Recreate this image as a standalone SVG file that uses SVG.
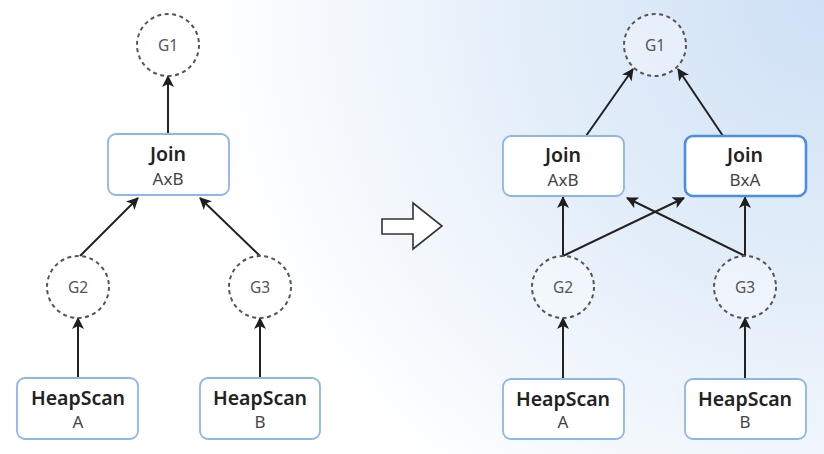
<svg xmlns="http://www.w3.org/2000/svg" width="824" height="454" viewBox="0 0 824 454">
<defs>
<radialGradient id="bg" cx="824" cy="0" r="620" gradientUnits="userSpaceOnUse">
<stop offset="0" stop-color="#cfe1f6"/>
<stop offset="0.45" stop-color="#e2edf9"/>
<stop offset="1" stop-color="#ffffff"/>
</radialGradient>
<marker id="ah" viewBox="0 0 12 12" refX="11" refY="6" markerWidth="12" markerHeight="12" markerUnits="userSpaceOnUse" orient="auto">
<path d="M0,0 L12,6 L0,12 L3,6 z" fill="#1e1e1e"/>
</marker>
<style>
.box{fill:#fff;stroke:#8db6ea;stroke-width:1.8}
.boxhl{fill:#fff;stroke:#4a8fe0;stroke-width:2.6}
.grp{fill:#fff;fill-opacity:0.35;stroke:#555;stroke-width:2;stroke-dasharray:4 3.5}
.t1{font-family:"Noto Sans","Open Sans",sans-serif;font-weight:600;font-size:19.5px;fill:#222;text-anchor:middle}
.t2{font-family:"Noto Sans","Open Sans",sans-serif;font-size:17px;fill:#444;text-anchor:middle}
.tg{font-family:"Noto Sans","Open Sans",sans-serif;font-size:15.5px;fill:#555;text-anchor:middle}
.edge{stroke:#222;stroke-width:2;fill:none;marker-end:url(#ah)}
</style>
</defs>
<rect width="824" height="454" fill="url(#bg)"/>

<g id="connectors">
<line class="edge" x1="168" y1="134" x2="168" y2="76"/>
<line class="edge" x1="80" y1="256" x2="138" y2="198"/>
<line class="edge" x1="260" y1="256" x2="200" y2="198"/>
<line class="edge" x1="78" y1="378" x2="78" y2="318"/>
<line class="edge" x1="260" y1="378" x2="260" y2="318"/>

<line class="edge" x1="586" y1="136" x2="633" y2="69"/>
<line class="edge" x1="723" y1="136" x2="678" y2="69"/>
<line class="edge" x1="563" y1="256" x2="563" y2="197"/>
<line class="edge" x1="563" y1="256" x2="684" y2="198"/>
<line class="edge" x1="745" y1="256" x2="627" y2="198"/>
<line class="edge" x1="745" y1="256" x2="745" y2="197"/>
<line class="edge" x1="563" y1="379" x2="563" y2="318"/>
<line class="edge" x1="745" y1="379" x2="745" y2="318"/>
</g>

<g id="L-G1"><circle class="grp" cx="168" cy="45" r="31"/><text class="tg" x="168" y="50.5">G1</text></g>
<g id="L-JoinAxB"><rect class="box" x="108" y="134" width="121" height="61" rx="8"/><text class="t1" x="168" y="161">Join</text><text class="t2" x="168" y="184.5">AxB</text></g>
<g id="L-G2"><circle class="grp" cx="78" cy="287" r="31"/><text class="tg" x="78" y="292.5">G2</text></g>
<g id="L-G3"><circle class="grp" cx="260" cy="287" r="31"/><text class="tg" x="260" y="292.5">G3</text></g>
<g id="L-HeapScanA"><rect class="box" x="17" y="378" width="121" height="61" rx="8"/><text class="t1" x="78" y="405">HeapScan</text><text class="t2" x="78" y="427.5">A</text></g>
<g id="L-HeapScanB"><rect class="box" x="200" y="378" width="120" height="61" rx="8"/><text class="t1" x="260" y="405">HeapScan</text><text class="t2" x="260" y="427.5">B</text></g>

<g id="transform-arrow"><polygon points="382,219 413,219 413,203 442,226 413,249 413,234 382,234" fill="#fff" stroke="#333" stroke-width="1.6" stroke-linejoin="miter"/></g>

<g id="R-G1"><circle class="grp" cx="655" cy="45" r="31"/><text class="tg" x="655" y="50.5">G1</text></g>
<g id="R-JoinAxB"><rect class="box" x="503" y="136" width="121" height="60" rx="8"/><text class="t1" x="563" y="162">Join</text><text class="t2" x="563" y="185.5">AxB</text></g>
<g id="R-JoinBxA"><rect class="boxhl" x="685" y="136" width="121" height="60" rx="8"/><text class="t1" x="745" y="162">Join</text><text class="t2" x="745" y="185.5">BxA</text></g>
<g id="R-G2"><circle class="grp" cx="563" cy="287" r="31"/><text class="tg" x="563" y="292.5">G2</text></g>
<g id="R-G3"><circle class="grp" cx="745" cy="287" r="31"/><text class="tg" x="745" y="292.5">G3</text></g>
<g id="R-HeapScanA"><rect class="box" x="503" y="379" width="121" height="60" rx="8"/><text class="t1" x="563" y="405.5">HeapScan</text><text class="t2" x="563" y="428">A</text></g>
<g id="R-HeapScanB"><rect class="box" x="685" y="379" width="121" height="60" rx="8"/><text class="t1" x="745" y="405.5">HeapScan</text><text class="t2" x="745" y="428">B</text></g>
</svg>
